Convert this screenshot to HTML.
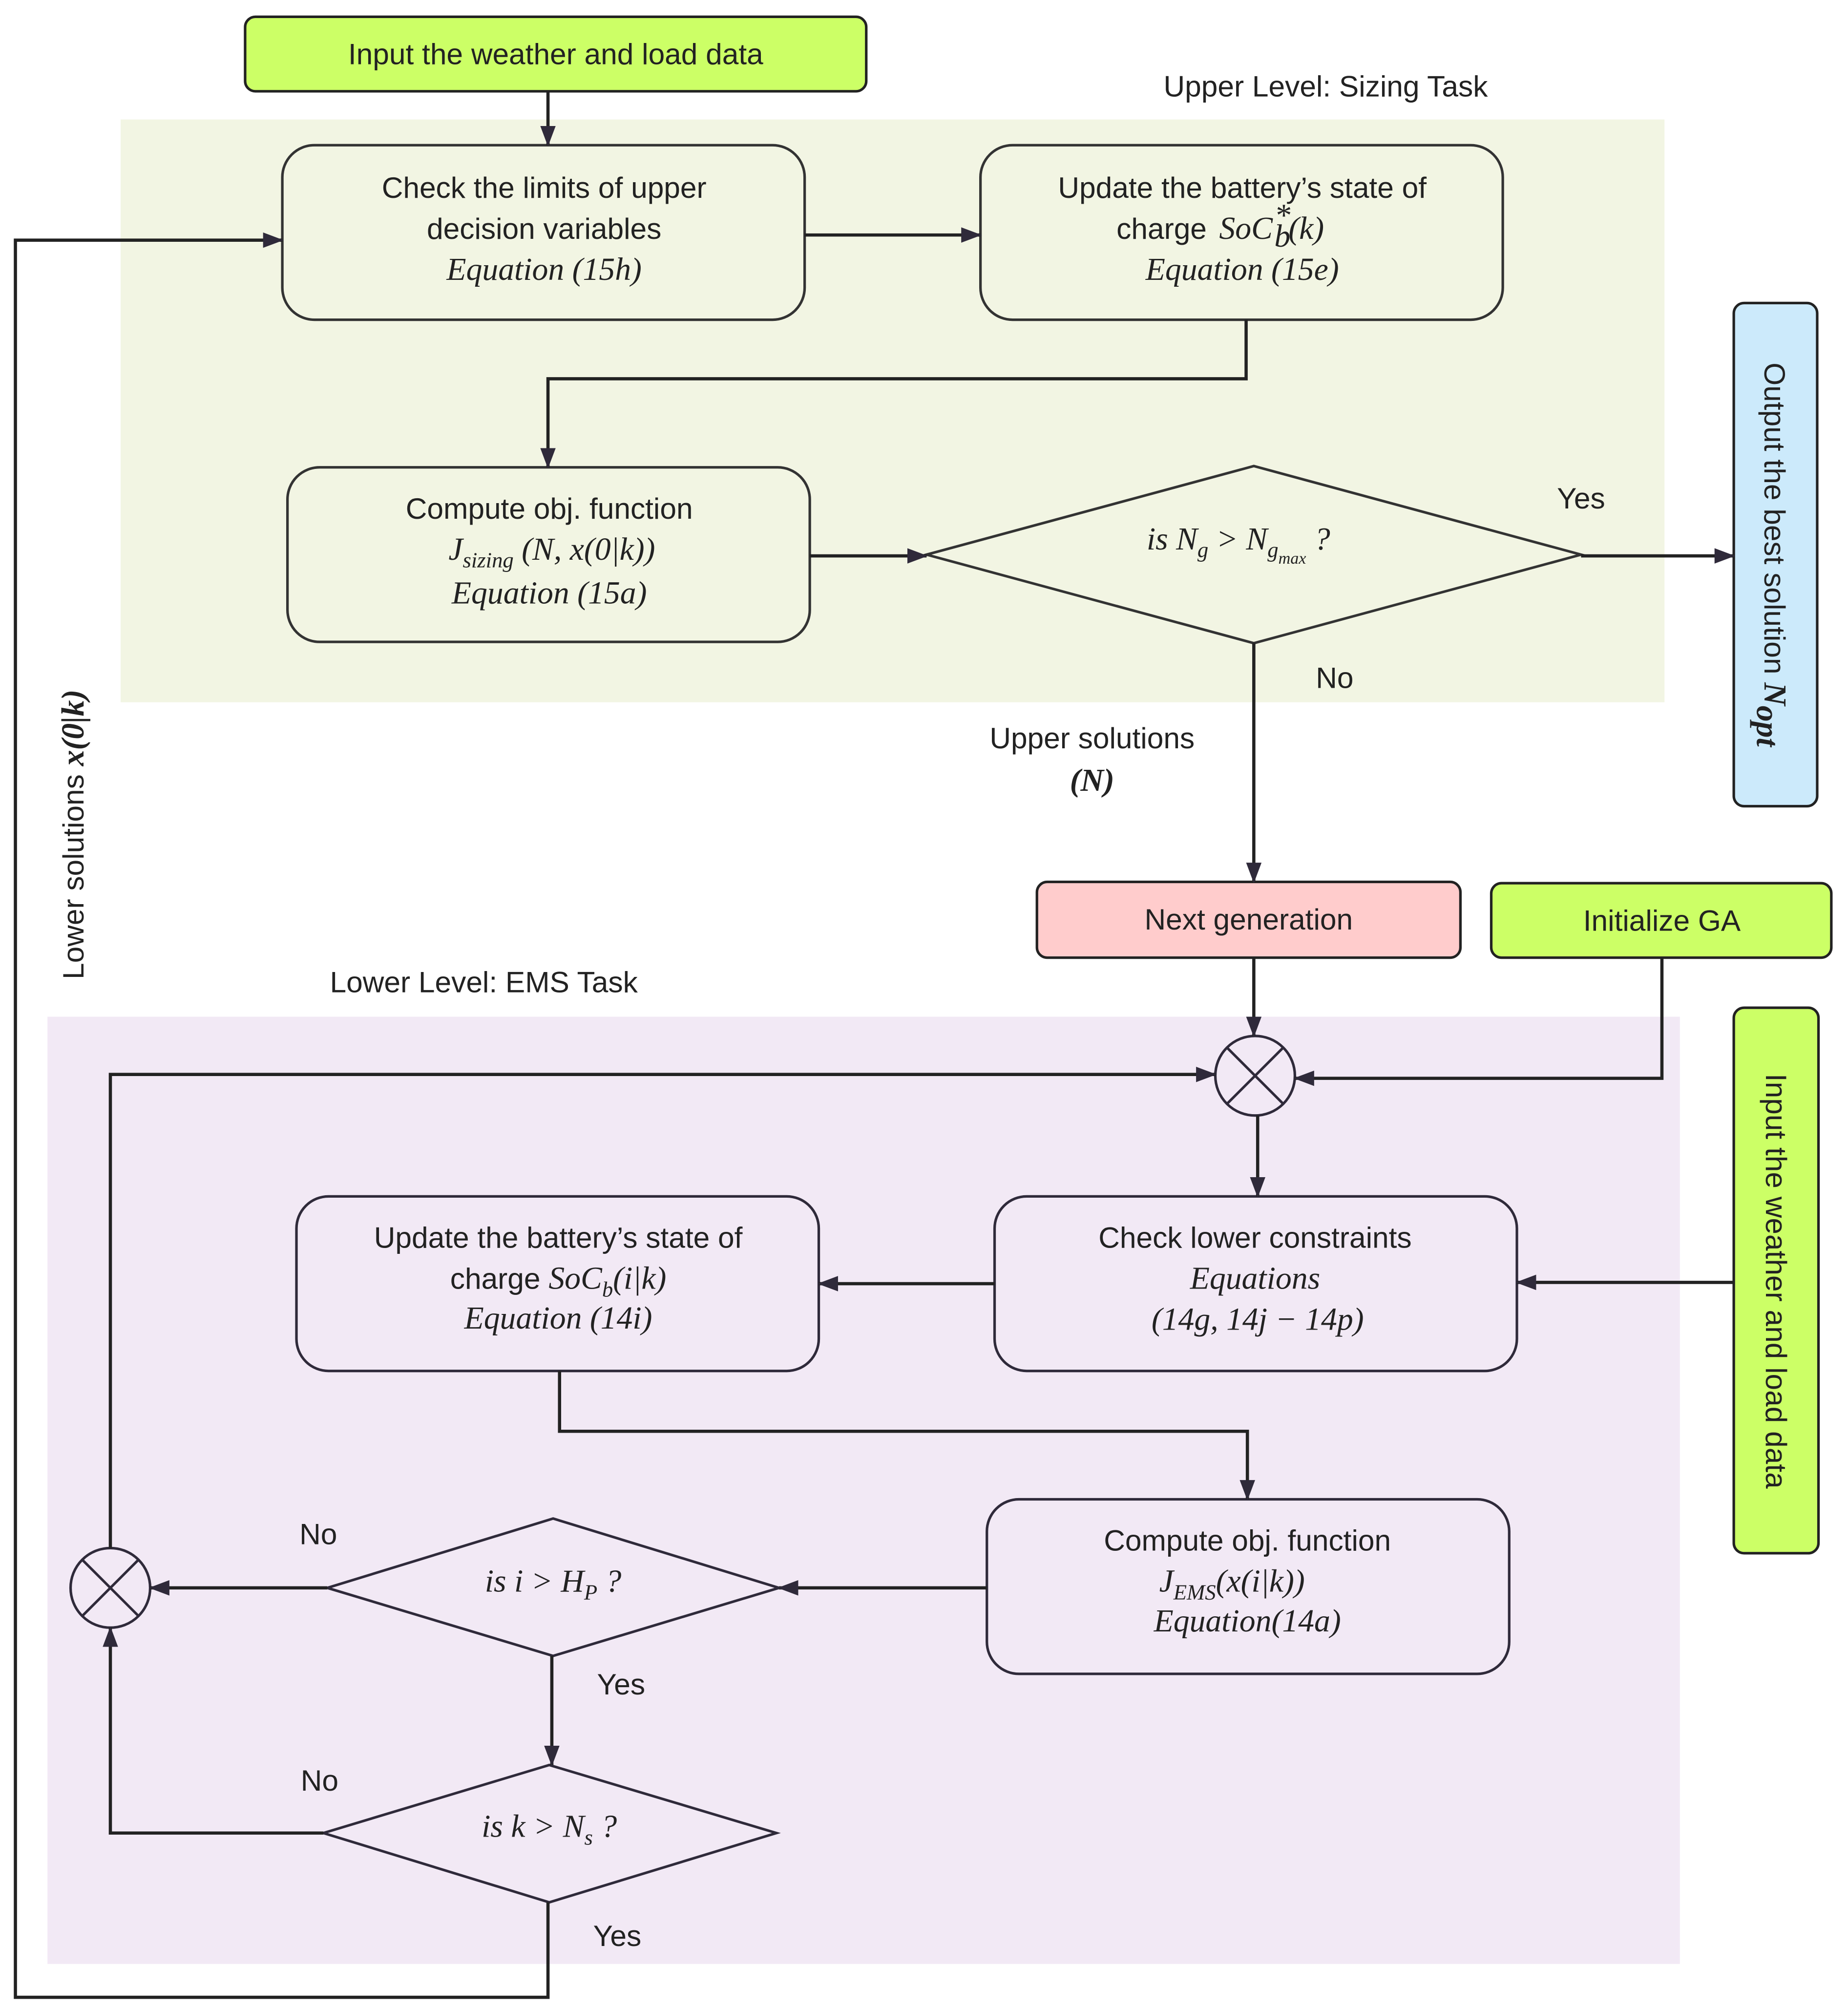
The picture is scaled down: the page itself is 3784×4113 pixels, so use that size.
<!DOCTYPE html>
<html><head><meta charset="utf-8">
<style>
html,body{margin:0;padding:0;background:#fff;}
svg{display:block;}
text{font-family:"Liberation Sans",sans-serif;font-size:23px;fill:#222;}
.m{font-family:"Liberation Serif",serif;font-style:italic;font-size:25px;}
</style></head>
<body>
<svg width="3784" height="4113" viewBox="0 0 1440 1565" xmlns="http://www.w3.org/2000/svg">
<defs>
<marker id="b" markerWidth="16" markerHeight="12" refX="15" refY="6" orient="auto" markerUnits="userSpaceOnUse"><path d="M0,0 L16,6 L0,12 z" fill="#2f2a3a"/></marker>
</defs>
<rect width="1440" height="1565" fill="#fff"/>
<rect x="94" y="93" width="1203" height="454" fill="#f2f5e3"/>
<rect x="37" y="792" width="1272" height="738" fill="#f2e9f5"/>

<rect x="191" y="13" width="484" height="58" rx="8" fill="#ccff66" stroke="#222" stroke-width="2"/>
<text x="433" y="50" text-anchor="middle">Input the weather and load data</text>
<text x="1033" y="75" text-anchor="middle">Upper Level: Sizing Task</text>

<g fill="none" stroke="#333" stroke-width="2">
<rect x="220" y="113" width="407" height="136" rx="25"/>
<rect x="764" y="113" width="407" height="136" rx="25"/>
<rect x="224" y="364" width="407" height="136" rx="25"/>
<polygon points="722,432 977,363 1232,432 977,501"/>
</g>
<text x="424" y="154" text-anchor="middle">Check the limits of upper</text>
<text x="424" y="186" text-anchor="middle">decision variables</text>
<text x="424" y="218" text-anchor="middle" class="m">Equation (15h)</text>
<text x="968" y="154" text-anchor="middle">Update the battery’s state of</text>
<text x="870" y="186">charge</text>
<text x="950" y="186" class="m">SoC</text>
<text x="993" y="176" class="m" font-size="17">*</text>
<text x="993" y="192" class="m" font-size="17">b</text>
<text x="1004" y="186" class="m">(k)</text>
<text x="968" y="218" text-anchor="middle" class="m">Equation (15e)</text>
<text x="428" y="404" text-anchor="middle">Compute obj. function</text>
<text x="430" y="436" text-anchor="middle" class="m">J<tspan font-size="17" dy="6">sizing</tspan><tspan dy="-6"> (N, x(0|k))</tspan></text>
<text x="428" y="470" text-anchor="middle" class="m">Equation (15a)</text>
<text x="965" y="428" text-anchor="middle" class="m">is N<tspan font-size="17" dy="6">g</tspan><tspan dy="-6"> &gt; N</tspan><tspan font-size="17" dy="6">g</tspan><tspan font-size="13" dy="5">max</tspan><tspan dy="-11">  ?</tspan></text>

<rect x="1351" y="236" width="65" height="392" rx="8" fill="#cceafb" stroke="#222" stroke-width="2"/>
<text transform="translate(1375,432) rotate(90)" text-anchor="middle">Output the best solution <tspan class="m" font-weight="bold">N</tspan><tspan class="m" font-weight="bold" font-size="17" dy="6">opt</tspan></text>
<text x="1232" y="396" text-anchor="middle">Yes</text>
<text x="1040" y="536" text-anchor="middle">No</text>
<text x="851" y="583" text-anchor="middle">Upper solutions</text>
<text x="851" y="616" text-anchor="middle" class="m" font-weight="bold">(N)</text>

<rect x="808" y="687" width="330" height="59" rx="8" fill="#ffcccc" stroke="#222" stroke-width="2"/>
<text x="973" y="724" text-anchor="middle">Next generation</text>
<rect x="1162" y="688" width="265" height="58" rx="8" fill="#ccff66" stroke="#222" stroke-width="2"/>
<text x="1295" y="725" text-anchor="middle">Initialize GA</text>
<text x="377" y="773" text-anchor="middle">Lower Level: EMS Task</text>

<text transform="translate(65,650) rotate(-90)" text-anchor="middle">Lower solutions <tspan class="m" font-weight="bold">x(0|k)</tspan></text>

<g fill="none" stroke="#2f2a3a" stroke-width="2">
<circle cx="978" cy="838" r="31"/>
<line x1="956" y1="816" x2="1000" y2="860"/><line x1="1000" y1="816" x2="956" y2="860"/>
<circle cx="86" cy="1237" r="31"/>
<line x1="64" y1="1215" x2="108" y2="1259"/><line x1="108" y1="1215" x2="64" y2="1259"/>
<rect x="775" y="932" width="407" height="136" rx="25"/>
<rect x="231" y="932" width="407" height="136" rx="25"/>
<rect x="769" y="1168" width="407" height="136" rx="25"/>
<polygon points="255,1237 431,1183 607,1237 431,1290"/>
<polygon points="252,1428 428,1375 605,1428 428,1482"/>
</g>
<rect x="1351" y="785" width="66" height="425" rx="8" fill="#ccff66" stroke="#222" stroke-width="2"/>
<text transform="translate(1376,998) rotate(90)" text-anchor="middle">Input the weather and load data</text>

<text x="978" y="972" text-anchor="middle">Check lower constraints</text>
<text x="978" y="1004" text-anchor="middle" class="m">Equations</text>
<text x="980" y="1036" text-anchor="middle" class="m">(14g, 14j − 14p)</text>
<text x="435" y="972" text-anchor="middle">Update the battery’s state of</text>
<text x="435" y="1004" text-anchor="middle">charge <tspan class="m">SoC<tspan font-size="17" dy="6">b</tspan><tspan dy="-6">(i|k)</tspan></tspan></text>
<text x="435" y="1035" text-anchor="middle" class="m">Equation (14i)</text>
<text x="972" y="1208" text-anchor="middle">Compute obj. function</text>
<text x="960" y="1240" text-anchor="middle" class="m">J<tspan font-size="17" dy="6">EMS</tspan><tspan dy="-6">(x(i|k))</tspan></text>
<text x="972" y="1271" text-anchor="middle" class="m">Equation(14a)</text>
<text x="431" y="1240" text-anchor="middle" class="m">is i &gt; H<tspan font-size="17" dy="6">P</tspan><tspan dy="-6"> ?</tspan></text>
<text x="428" y="1431" text-anchor="middle" class="m">is k &gt; N<tspan font-size="17" dy="6">s</tspan><tspan dy="-6"> ?</tspan></text>
<text x="248" y="1203" text-anchor="middle">No</text>
<text x="484" y="1320" text-anchor="middle">Yes</text>
<text x="249" y="1395" text-anchor="middle">No</text>
<text x="481" y="1516" text-anchor="middle">Yes</text>

<g fill="none" stroke="#222" stroke-width="2.5" marker-end="url(#b)">
<path d="M427,71 V113"/>
<path d="M627,183 H764"/>
<path d="M971,249 V295 H427 V364"/>
<path d="M631,433 H722"/>
<path d="M1232,433 H1351"/>
<path d="M977,501 V687"/>
<path d="M977,746 V807"/>
<path d="M1295,746 V840 H1009"/>
<path d="M980,869 V932"/>
<path d="M1351,999 H1182"/>
<path d="M775,1000 H638"/>
<path d="M436,1068 V1115 H972 V1168"/>
<path d="M769,1237 H607"/>
<path d="M255,1237 H117"/>
<path d="M430,1290 V1375"/>
<path d="M252,1428 H86 V1268"/>
<path d="M86,1206 V837 H947"/>
<path d="M427,1482 V1556 H12 V187 H220"/>
</g>
</svg>
</body></html>
